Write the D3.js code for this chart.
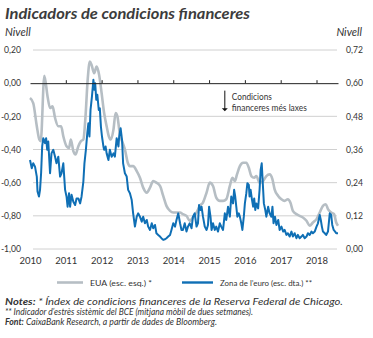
<!DOCTYPE html>
<html><head><meta charset="utf-8">
<script src="https://cdn.jsdelivr.net/npm/d3@7"></script>
<style>body{margin:0;background:#fff}svg{display:block}text{font-family:Lato,"Noto Sans",sans-serif;fill:#333}</style>
</head><body><svg id="c" width="373" height="338"></svg>
<script>
// ---- data ----
const leftTicks = [0.20, 0.00, -0.20, -0.40, -0.60, -0.80, -1.00];
const rightTicks = [0.72, 0.60, 0.48, 0.36, 0.24, 0.12, 0.00];
const yearTicks = [2010, 2011, 2012, 2013, 2014, 2015, 2016, 2017, 2018];
// US (left axis)
const usDates = [2010.00,2010.09,2010.19,2010.26,2010.30,2010.40,2010.49,2010.56,2010.63,2010.70,2010.79,2010.87,2010.93,2011.02,2011.09,2011.14,2011.21,2011.27,2011.35,2011.42,2011.49,2011.55,2011.61,2011.67,2011.72,2011.79,2011.86,2011.93,2012.00,2012.07,2012.14,2012.20,2012.26,2012.33,2012.39,2012.44,2012.51,2012.59,2012.65,2012.73,2012.79,2012.88,2012.98,2013.07,2013.16,2013.26,2013.35,2013.44,2013.53,2013.63,2013.72,2013.81,2013.91,2014.00,2014.09,2014.19,2014.27,2014.37,2014.46,2014.55,2014.65,2014.74,2014.83,2014.93,2015.02,2015.11,2015.20,2015.30,2015.39,2015.48,2015.58,2015.65,2015.72,2015.78,2015.86,2015.95,2016.04,2016.11,2016.18,2016.26,2016.32,2016.41,2016.51,2016.60,2016.69,2016.77,2016.83,2016.93,2017.02,2017.11,2017.20,2017.27,2017.34,2017.44,2017.53,2017.62,2017.72,2017.81,2017.90,2018.00,2018.09,2018.18,2018.26,2018.32,2018.41,2018.49,2018.55,2018.60];
const usValues = [-0.09,-0.12,-0.26,-0.34,-0.35,0.045,-0.08,-0.15,-0.14,-0.21,-0.26,-0.26,-0.32,-0.38,-0.39,-0.34,-0.41,-0.43,-0.38,-0.35,-0.34,-0.20,0.02,0.13,0.11,0.06,0.10,0.05,-0.06,-0.18,-0.26,-0.32,-0.34,-0.28,-0.18,-0.20,-0.31,-0.36,-0.40,-0.48,-0.50,-0.50,-0.53,-0.57,-0.63,-0.66,-0.63,-0.59,-0.60,-0.62,-0.68,-0.74,-0.77,-0.78,-0.78,-0.78,-0.79,-0.80,-0.83,-0.81,-0.78,-0.74,-0.72,-0.66,-0.60,-0.62,-0.69,-0.71,-0.71,-0.70,-0.62,-0.57,-0.59,-0.55,-0.50,-0.48,-0.48,-0.51,-0.56,-0.57,-0.56,-0.60,-0.59,-0.56,-0.55,-0.58,-0.64,-0.68,-0.70,-0.71,-0.70,-0.72,-0.77,-0.79,-0.80,-0.81,-0.83,-0.86,-0.84,-0.82,-0.78,-0.74,-0.73,-0.76,-0.78,-0.79,-0.84,-0.86];
// Euro area (right axis)
const euDates = [2010.00,2010.05,2010.09,2010.14,2010.19,2010.21,2010.25,2010.28,2010.31,2010.34,2010.37,2010.42,2010.45,2010.48,2010.51,2010.56,2010.60,2010.65,2010.70,2010.74,2010.79,2010.84,2010.88,2010.93,2010.98,2011.02,2011.05,2011.09,2011.12,2011.16,2011.21,2011.26,2011.30,2011.35,2011.40,2011.44,2011.49,2011.52,2011.56,2011.60,2011.63,2011.66,2011.69,2011.73,2011.77,2011.80,2011.82,2011.85,2011.88,2011.92,2011.95,2011.98,2012.01,2012.05,2012.07,2012.11,2012.14,2012.19,2012.23,2012.28,2012.33,2012.37,2012.42,2012.47,2012.49,2012.53,2012.57,2012.60,2012.65,2012.70,2012.74,2012.79,2012.84,2012.88,2012.93,2012.98,2013.02,2013.07,2013.12,2013.16,2013.21,2013.26,2013.30,2013.35,2013.40,2013.44,2013.49,2013.53,2013.58,2013.63,2013.67,2013.72,2013.77,2013.81,2013.86,2013.91,2013.95,2014.00,2014.05,2014.09,2014.14,2014.19,2014.23,2014.27,2014.32,2014.37,2014.41,2014.46,2014.51,2014.55,2014.60,2014.65,2014.69,2014.72,2014.76,2014.79,2014.83,2014.88,2014.93,2014.97,2015.00,2015.04,2015.07,2015.11,2015.16,2015.20,2015.25,2015.30,2015.34,2015.39,2015.44,2015.48,2015.53,2015.58,2015.62,2015.67,2015.70,2015.73,2015.76,2015.79,2015.83,2015.86,2015.90,2015.93,2015.97,2016.00,2016.04,2016.07,2016.11,2016.13,2016.16,2016.20,2016.23,2016.26,2016.29,2016.32,2016.37,2016.41,2016.44,2016.47,2016.49,2016.51,2016.53,2016.57,2016.60,2016.65,2016.69,2016.74,2016.77,2016.80,2016.84,2016.88,2016.93,2016.97,2017.02,2017.07,2017.11,2017.16,2017.20,2017.25,2017.30,2017.34,2017.39,2017.44,2017.48,2017.53,2017.58,2017.62,2017.67,2017.72,2017.76,2017.81,2017.86,2017.90,2017.95,2018.00,2018.04,2018.09,2018.12,2018.15,2018.18,2018.23,2018.27,2018.32,2018.37,2018.41,2018.44,2018.48,2018.52,2018.55,2018.60];
const euValues = [0.322,0.292,0.310,0.298,0.262,0.208,0.190,0.214,0.274,0.371,0.401,0.383,0.401,0.359,0.389,0.274,0.346,0.359,0.334,0.310,0.334,0.262,0.274,0.310,0.214,0.190,0.153,0.202,0.153,0.196,0.171,0.159,0.183,0.183,0.165,0.190,0.244,0.310,0.359,0.419,0.455,0.407,0.503,0.552,0.612,0.576,0.600,0.540,0.558,0.503,0.509,0.443,0.407,0.371,0.359,0.371,0.346,0.322,0.359,0.334,0.346,0.334,0.401,0.371,0.407,0.437,0.395,0.310,0.274,0.262,0.214,0.202,0.177,0.129,0.081,0.117,0.129,0.117,0.099,0.117,0.093,0.105,0.081,0.069,0.093,0.075,0.087,0.057,0.051,0.045,0.039,0.033,0.035,0.039,0.045,0.051,0.069,0.093,0.081,0.105,0.129,0.093,0.069,0.069,0.093,0.063,0.081,0.093,0.075,0.117,0.129,0.081,0.093,0.159,0.141,0.153,0.117,0.081,0.069,0.087,0.153,0.117,0.069,0.093,0.069,0.081,0.063,0.093,0.081,0.069,0.129,0.105,0.153,0.117,0.190,0.165,0.214,0.190,0.153,0.117,0.129,0.117,0.093,0.069,0.117,0.165,0.202,0.238,0.232,0.190,0.214,0.177,0.153,0.183,0.141,0.165,0.147,0.214,0.286,0.310,0.262,0.214,0.165,0.141,0.117,0.153,0.129,0.117,0.153,0.093,0.117,0.087,0.105,0.069,0.081,0.063,0.069,0.051,0.057,0.045,0.063,0.045,0.057,0.039,0.051,0.039,0.045,0.051,0.039,0.045,0.057,0.051,0.063,0.057,0.063,0.081,0.093,0.123,0.105,0.081,0.063,0.057,0.051,0.063,0.129,0.123,0.087,0.069,0.063,0.057,0.057];
const legendLabels = ["EUA (esc. esq.) *", "Zona de l\u2019euro (esc. dta.) **"];

// ---- drawing ----
const svg = d3.select("#c");
const x = d3.scaleLinear().domain([2010, 2018.6]).range([30, 338]);
const yL = d3.scaleLinear().domain([-1, 0.2]).range([249, 50]);
const yR = d3.scaleLinear().domain([0, 0.72]).range([249, 50]);
const fmt = d => d3.format(".2f")(d).replace(".", ",").replace("\u2212", "-");
const grayC = "#b6bec4", blueC = "#0f6fb5";
const FF = "Lato,'Noto Sans',sans-serif";

// title
svg.append("text").attr("x", 5).attr("y", 18.5).text("Indicadors de condicions financeres")
  .attr("font-size", 15.5).attr("font-weight", "bold").attr("font-style", "italic").style("fill", "#3c3c3c")
  .attr("textLength", 245).attr("lengthAdjust", "spacingAndGlyphs");
svg.append("text").attr("x", 5).attr("y", 36).text("Nivell").attr("font-size", 11).attr("font-style", "italic");
svg.append("text").attr("x", 362).attr("y", 36).attr("text-anchor", "end").text("Nivell").attr("font-size", 11).attr("font-style", "italic");

// gridlines
svg.append("g").selectAll("line").data(leftTicks.filter(d => d !== 0)).join("line")
  .attr("x1", 33).attr("x2", 337).attr("y1", d => yL(d)).attr("y2", d => yL(d))
  .attr("stroke", "#d0d0d0").attr("stroke-width", 1);

// left axis
const gL = svg.append("g").attr("transform", "translate(21,0)")
  .call(d3.axisLeft(yL).tickValues(leftTicks).tickFormat(fmt).tickSize(0).tickPadding(0));
gL.select(".domain").remove();
gL.selectAll("text").attr("font-size", 8.6).style("font-family", FF).attr("fill", "#333");

// right axis
const gR = svg.append("g").attr("transform", "translate(346,0)")
  .call(d3.axisRight(yR).tickValues(rightTicks).tickFormat(fmt).tickSize(0).tickPadding(0));
gR.select(".domain").remove();
gR.selectAll("text").attr("font-size", 8.6).style("font-family", FF).attr("fill", "#333");

// x labels at bottom
const gX = svg.append("g").attr("transform", "translate(0,249)")
  .call(d3.axisBottom(x).tickValues(yearTicks).tickFormat(d3.format("d")).tickSize(0).tickPadding(8));
gX.select(".domain").remove();
gX.selectAll("text").attr("font-size", 9.5).style("font-family", FF).attr("fill", "#333");

// series
const lineUS = d3.line().x((d, i) => x(usDates[i])).y(d => yL(d)).curve(d3.curveMonotoneX);
const lineEU = d3.line().x((d, i) => x(euDates[i])).y(d => yR(d));
svg.append("path").attr("d", lineUS(usValues)).attr("fill", "none").attr("stroke", grayC).attr("stroke-width", 2.6).attr("stroke-linejoin", "round");
svg.append("path").attr("d", lineEU(euValues)).attr("fill", "none").attr("stroke", blueC).attr("stroke-width", 2).attr("stroke-linejoin", "round");

// zero axis with year ticks
const g0 = svg.append("g").attr("transform", `translate(0,${yL(0)})`)
  .call(d3.axisTop(x).tickValues(yearTicks.slice(1)).tickFormat("").tickSizeInner(3).tickSizeOuter(0));
g0.select(".domain").attr("stroke", "#222").attr("stroke-width", 1);
g0.selectAll(".tick line").attr("stroke", "#222");

// annotation arrow
const ax = x(2015.44);
svg.append("line").attr("x1", ax).attr("x2", ax).attr("y1", yL(-0.045)).attr("y2", yL(-0.16))
  .attr("stroke", "#111").attr("stroke-width", 1);
svg.append("path").attr("d", `M${ax-3},${yL(-0.152)} L${ax+3},${yL(-0.152)} L${ax},${yL(-0.17)} Z`).attr("fill", "#111");
svg.append("text").attr("x", ax + 7).attr("y", 99.5).attr("font-size", 8.6).text("Condicions")
  .attr("textLength", 40).attr("lengthAdjust", "spacingAndGlyphs");
svg.append("text").attr("x", ax + 7).attr("y", 110.5).attr("font-size", 8.6).text("financeres més laxes")
  .attr("textLength", 75).attr("lengthAdjust", "spacingAndGlyphs");

// legend
const leg = svg.append("g");
const legItems = [{c: grayC, w: 2.6, x1: 57, x2: 83, tx: 90, tl: 62}, {c: blueC, w: 2.4, x1: 182, x2: 213, tx: 220, tl: 92}];
legItems.forEach((it, i) => {
  leg.append("line").attr("x1", it.x1).attr("x2", it.x2).attr("y1", 282.5).attr("y2", 282.5).attr("stroke", it.c).attr("stroke-width", it.w);
  leg.append("text").attr("x", it.tx).attr("y", 285.5).attr("font-size", 8).text(legendLabels[i])
    .attr("textLength", it.tl).attr("lengthAdjust", "spacingAndGlyphs");
});

// notes
const notes = [
  ["Notes:", " * Índex de condicions financeres de la Reserva Federal de Chicago.", 338],
  ["", "** Indicador d\u2019estrès sistèmic del BCE (mitjana mòbil de dues setmanes).", 248],
  ["Font:", " CaixaBank Research, a partir de dades de Bloomberg.", 212]
];
notes.forEach((n, i) => {
  const t = svg.append("text").attr("x", 5).attr("y", 304.5 + i * 10).attr("font-size", 8.6).attr("font-style", "italic")
    .attr("textLength", n[2]).attr("lengthAdjust", "spacingAndGlyphs");
  if (n[0]) t.append("tspan").attr("font-weight", "bold").text(n[0]);
  t.append("tspan").text(n[1]);
});
</script></body></html>
